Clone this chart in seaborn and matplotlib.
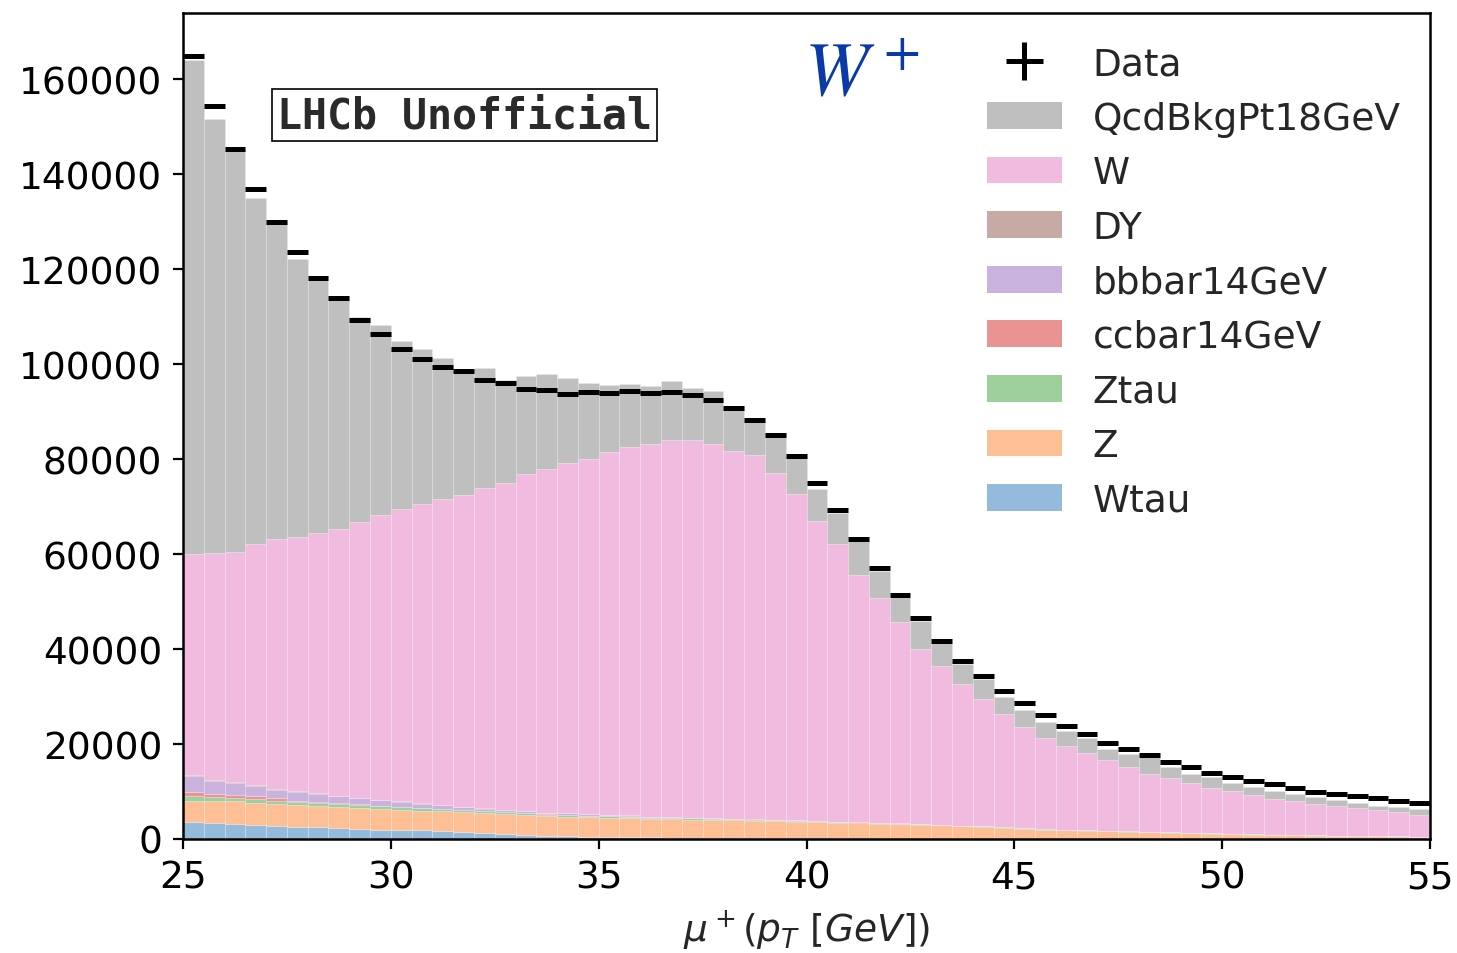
import numpy as np
import pandas as pd
import matplotlib
matplotlib.use("Agg")
import matplotlib.pyplot as plt
import seaborn as sns
from matplotlib.patches import Patch

# ---------------- data (values in thousands of events, 0.5 GeV bins) ----------------
bin_edges_range = (25.0, 55.0)
n_bins = 60

data_k = [165.0, 154.5, 145.3, 137.0, 130.0, 123.7, 118.2, 114.0, 109.4, 106.4,
          103.2, 101.1, 99.5, 98.5, 96.7, 96.1, 94.9, 94.6, 93.7, 94.2,
          94.0, 94.4, 94.0, 94.2, 93.5, 92.5, 90.7, 88.2, 85.1, 80.7,
          74.9, 69.3, 63.2, 57.0, 51.4, 46.6, 41.7, 37.5, 34.4, 31.2,
          28.6, 26.2, 23.7, 22.2, 20.3, 19.0, 17.7, 16.3, 15.1, 14.0,
          13.1, 12.3, 11.5, 10.7, 10.0, 9.5, 9.1, 8.6, 7.9, 7.5]

qcd_k = [104.0, 91.5, 85.0, 73.0, 66.9, 58.6, 54.1, 48.9, 43.2, 40.1,
         35.3, 32.7, 29.8, 26.4, 25.3, 21.7, 20.5, 20.1, 17.9, 16.1,
         14.1, 13.3, 12.3, 12.5, 11.0, 11.1, 9.3, 7.7, 8.2, 8.1,
         6.7, 6.7, 7.2, 5.8, 5.3, 5.9, 4.7, 4.3, 4.2, 3.7,
         3.5, 3.2, 3.3, 3.1, 2.3, 2.8, 3.5, 2.3, 1.9, 2.3,
         1.6, 1.6, 1.8, 1.6, 1.3, 1.1, 1.2, 0.8, 1.0, 1.2]

w_k = [46.5, 47.7, 48.5, 50.7, 52.7, 53.4, 54.8, 56.3, 58.0, 60.0,
       61.7, 63.0, 64.4, 65.7, 67.5, 68.9, 71.0, 72.3, 73.8, 74.8,
       76.5, 77.7, 78.4, 79.4, 79.5, 78.9, 77.6, 76.7, 73.0, 68.8,
       63.2, 58.4, 52.1, 47.3, 42.4, 36.9, 33.5, 29.8, 26.8, 23.8,
       21.4, 19.3, 17.6, 16.3, 14.9, 13.5, 12.2, 11.4, 10.5, 9.5,
       9.1, 8.3, 7.5, 7.1, 6.7, 6.3, 5.8, 5.6, 5.1, 4.6]

dy_k = [0.2, 0.2, 0.15, 0.15, 0.15, 0.12, 0.12, 0.1, 0.1, 0.1,
        0.1, 0.08, 0.08, 0.07, 0.07, 0.06, 0.06, 0.05, 0.05, 0.05,
        0.05, 0.05, 0.04, 0.04, 0.04, 0.04, 0.03, 0.03, 0.03, 0.03,
        0.03, 0.02, 0.02, 0.02, 0.02, 0.02, 0.02, 0.02, 0.01, 0.01,
        0.01, 0.01, 0.01, 0.01, 0.01, 0.01, 0.01, 0.0, 0.0, 0.0,
        0.0, 0.0, 0.0, 0.0, 0.0, 0.0, 0.0, 0.0, 0.0, 0.0]

bbbar_k = [3.3, 2.8, 2.5, 2.2, 1.8, 1.9, 1.7, 1.4, 1.3, 1.1,
           1.0, 0.8, 0.7, 0.6, 0.5, 0.45, 0.4, 0.35, 0.3, 0.25,
           0.2, 0.18, 0.16, 0.14, 0.12, 0.1, 0.09, 0.08, 0.07, 0.06,
           0.05, 0.05, 0.04, 0.04, 0.04, 0.03, 0.03, 0.03, 0.02, 0.02,
           0.02, 0.02, 0.01, 0.01, 0.01, 0.01, 0.01, 0.01, 0.01, 0.01,
           0.0, 0.0, 0.0, 0.0, 0.0, 0.0, 0.0, 0.0, 0.0, 0.0]

ccbar_k = [0.9, 0.7, 0.7, 0.6, 0.5, 0.3, 0.3, 0.2, 0.2, 0.15,
           0.12, 0.1, 0.08, 0.07, 0.06, 0.05, 0.04, 0.03, 0.03, 0.02,
           0.02, 0.02, 0.02, 0.02, 0.01, 0.01, 0.01, 0.01, 0.01, 0.01,
           0.01, 0.01, 0.01, 0.01, 0.01, 0.0, 0.0, 0.0, 0.0, 0.0,
           0.0, 0.0, 0.0, 0.0, 0.0, 0.0, 0.0, 0.0, 0.0, 0.0,
           0.0, 0.0, 0.0, 0.0, 0.0, 0.0, 0.0, 0.0, 0.0, 0.0]

ztau_k = [1.0, 0.7, 0.7, 0.8, 0.7, 0.6, 0.6, 0.7, 0.6, 0.6,
          0.5, 0.5, 0.5, 0.45, 0.45, 0.4, 0.4, 0.35, 0.35, 0.3,
          0.3, 0.3, 0.25, 0.25, 0.25, 0.2, 0.2, 0.2, 0.2, 0.2,
          0.18, 0.17, 0.16, 0.15, 0.14, 0.13, 0.12, 0.11, 0.1, 0.1,
          0.09, 0.09, 0.08, 0.08, 0.07, 0.07, 0.06, 0.06, 0.06, 0.05,
          0.05, 0.05, 0.05, 0.05, 0.05, 0.05, 0.05, 0.05, 0.05, 0.05]

z_k = [4.5, 4.7, 4.7, 4.7, 4.6, 4.6, 4.4, 4.4, 4.4, 4.3,
       4.3, 4.2, 4.2, 4.2, 4.2, 4.2, 4.2, 4.1, 4.1, 4.1,
       4.0, 4.0, 3.9, 3.9, 3.8, 3.8, 3.7, 3.6, 3.6, 3.5,
       3.4, 3.3, 3.2, 3.1, 3.0, 2.9, 2.8, 2.6, 2.5, 2.3,
       2.1, 1.9, 1.8, 1.7, 1.6, 1.5, 1.4, 1.3, 1.2, 1.1,
       1.0, 0.9, 0.8, 0.75, 0.7, 0.65, 0.6, 0.55, 0.5, 0.45]

wtau_k = [3.6, 3.4, 3.2, 2.9, 2.8, 2.6, 2.5, 2.3, 2.1, 2.0,
          1.9, 1.8, 1.6, 1.4, 1.2, 1.0, 0.85, 0.7, 0.6, 0.5,
          0.45, 0.4, 0.35, 0.3, 0.27, 0.24, 0.21, 0.19, 0.17, 0.15,
          0.13, 0.12, 0.11, 0.1, 0.09, 0.08, 0.07, 0.06, 0.06, 0.05,
          0.05, 0.04, 0.04, 0.04, 0.03, 0.03, 0.03, 0.03, 0.02, 0.02,
          0.02, 0.02, 0.02, 0.02, 0.01, 0.01, 0.01, 0.01, 0.01, 0.01]

samples = ["QcdBkgPt18GeV", "W", "DY", "bbbar14GeV", "ccbar14GeV", "Ztau", "Z", "Wtau"]
sample_values = [qcd_k, w_k, dy_k, bbbar_k, ccbar_k, ztau_k, z_k, wtau_k]
sample_colors = ["#bfbfbf", "#f1bbe0", "#c5aaa5", "#c9b3de", "#ea9393", "#9dcf9a", "#ffbf94", "#94bbdb"]

x_ticks = [25, 30, 35, 40, 45, 50, 55]
y_ticks = [0, 20000, 40000, 60000, 80000, 100000, 120000, 140000, 160000]

# ---------------- build long-form table ----------------
bin_width = (bin_edges_range[1] - bin_edges_range[0]) / n_bins
centers = bin_edges_range[0] + bin_width * (np.arange(n_bins) + 0.5)
rows = []
for name, vals in zip(samples, sample_values):
    for c, v in zip(centers, vals):
        rows.append({"pt": c, "weight": v * 1000.0, "sample": name})
df = pd.DataFrame(rows)
data_counts = np.array(data_k) * 1000.0

# ---------------- plot ----------------
sns.set_style("white")
plt.rcParams["font.family"] = ["DejaVu Sans"]
plt.rcParams["mathtext.fontset"] = "dejavusans"

fig = plt.figure(figsize=(14.57, 9.54), dpi=100)
ax = fig.add_axes([0.1256, 0.1195, 0.8559, 0.8658])

sns.histplot(data=df, x="pt", weights="weight", hue="sample", hue_order=samples,
             palette=dict(zip(samples, sample_colors)),
             binwidth=bin_width, binrange=bin_edges_range,
             multiple="stack", element="bars", alpha=1.0, legend=False,
             edgecolor=(1, 1, 1, 0.18), linewidth=0.8, ax=ax)

err = ax.errorbar(centers, data_counts, xerr=bin_width / 2, yerr=np.sqrt(data_counts),
                  fmt="none", ecolor="black", elinewidth=3.6, capsize=0, zorder=5)

ax.set_xlim(25, 55)
ax.set_ylim(0, 174000)
ax.set_xticks(x_ticks)
ax.set_yticks(y_ticks)
ax.tick_params(axis="both", which="major", labelsize=27, length=7, width=1.6,
               direction="out", bottom=True, left=True, colors="black", pad=8)
for s in ax.spines.values():
    s.set_visible(True)
    s.set_color("black")
    s.set_linewidth(1.8)
ax.set_ylabel("")
ax.set_xlabel(r"$\mu^+(p_T\ [GeV])$", fontsize=27, labelpad=8)

# legend
handles = [err] + [Patch(facecolor=c, edgecolor="none") for c in sample_colors]
labels = ["Data"] + samples
ax.legend(handles, labels, loc="upper right", bbox_to_anchor=(0.999, 0.994),
          frameon=False, fontsize=27, handlelength=2.0, handleheight=0.72,
          handletextpad=0.82, labelspacing=0.495, borderaxespad=0.35)

# annotations
ax.text(0.075, 0.876, "LHCb Unofficial", transform=ax.transAxes,
        fontsize=30, fontweight="bold", family="DejaVu Sans Mono", color="#2a2a2a",
        va="center", ha="left",
        bbox=dict(boxstyle="square,pad=0.12", facecolor="white", edgecolor="black", linewidth=1.2))
ax.text(0.498, 0.928, r"$W^+$", transform=ax.transAxes, fontsize=55,
        color="#0a3aa8", va="center", ha="left", math_fontfamily="stix")

fig.savefig("out.png", dpi=100)
